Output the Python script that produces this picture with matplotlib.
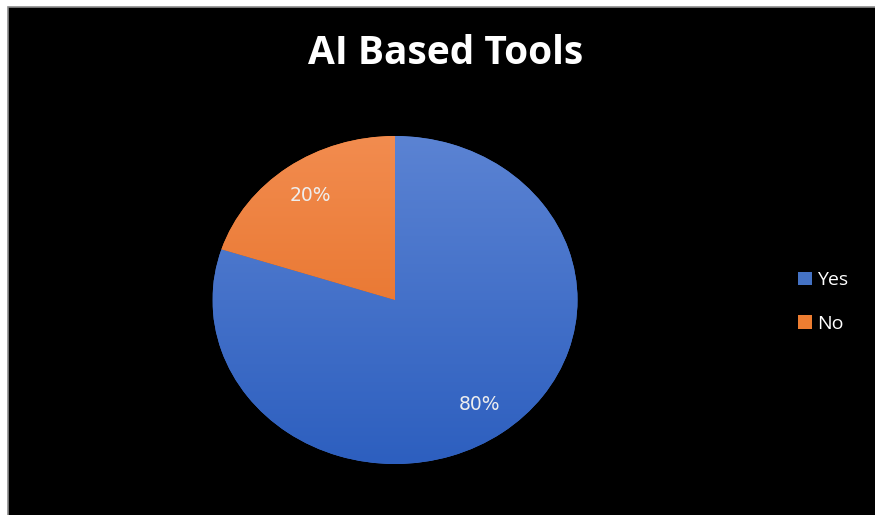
import numpy as np
import matplotlib
matplotlib.use('Agg')
import matplotlib.pyplot as plt
from matplotlib.patches import Rectangle
from matplotlib.colors import LinearSegmentedColormap

# data
labels = ['Yes', 'No']
shares = [80, 20]
title = 'AI Based Tools'

# gradient ends (top, bottom) for each slice
grad_colors = [('#5b83d3', '#2d5fbf'), ('#f28c4f', '#e2671a')]
mid_colors = ['#4472c4', '#ed7d31']

W, H = 875, 515
fig = plt.figure(figsize=(W / 100, H / 100), dpi=100)
fig.patch.set_facecolor('white')

# black chart area with thin grey edge (runs off the right and bottom)
fig.patches.append(Rectangle((8 / W, -0.05), 1.1, 1.05 - 7 / H, transform=fig.transFigure,
                             facecolor='black', edgecolor='#8c8c8c', linewidth=1.2, zorder=-10))

# pie axes (pie is slightly stretched horizontally in the reference)
cx, cy, rx, ry = 395, 300, 182.5, 164
ax = fig.add_axes([(cx - rx) / W, (H - cy - ry) / H, 2 * rx / W, 2 * ry / H])
ax.set_facecolor('none')
ax.set_zorder(2)

wedges, texts, autotexts = ax.pie(shares, colors=mid_colors, startangle=90, counterclock=False,
                                  autopct='%d%%', pctdistance=0.79,
                                  textprops=dict(color='#eeeeee', fontsize=13.5, family='DejaVu Sans'))
ax.set_aspect('auto')
ax.set_xlim(-1, 1)
ax.set_ylim(-1, 1)
ax.axis('off')

# vertical gradient fill clipped to each wedge
grad = np.linspace(0, 1, 256).reshape(-1, 1)
for w, (c_top, c_bot) in zip(wedges, grad_colors):
    cm = LinearSegmentedColormap.from_list('g', [c_top, c_bot])
    im = ax.imshow(grad, extent=[-1, 1, -1, 1], origin='upper', cmap=cm, aspect='auto', zorder=1.5)
    im.set_clip_path(w)
for t in autotexts:
    t.set_zorder(3)

fig.text(446 / W, 1 - 53 / H, title, ha='center', va='center', color='white',
         fontsize=28, fontweight='bold', family='Open Sans')

leg = fig.legend(wedges, labels, loc='center left', bbox_to_anchor=(780 / W, 1 - 302 / H),
                 frameon=False, labelcolor='white', prop=dict(family='Open Sans', size=14),
                 handlelength=0.72, handleheight=0.72, handletextpad=0.3, labelspacing=1.3)

fig.savefig('out.png', dpi=100, facecolor=fig.get_facecolor())
